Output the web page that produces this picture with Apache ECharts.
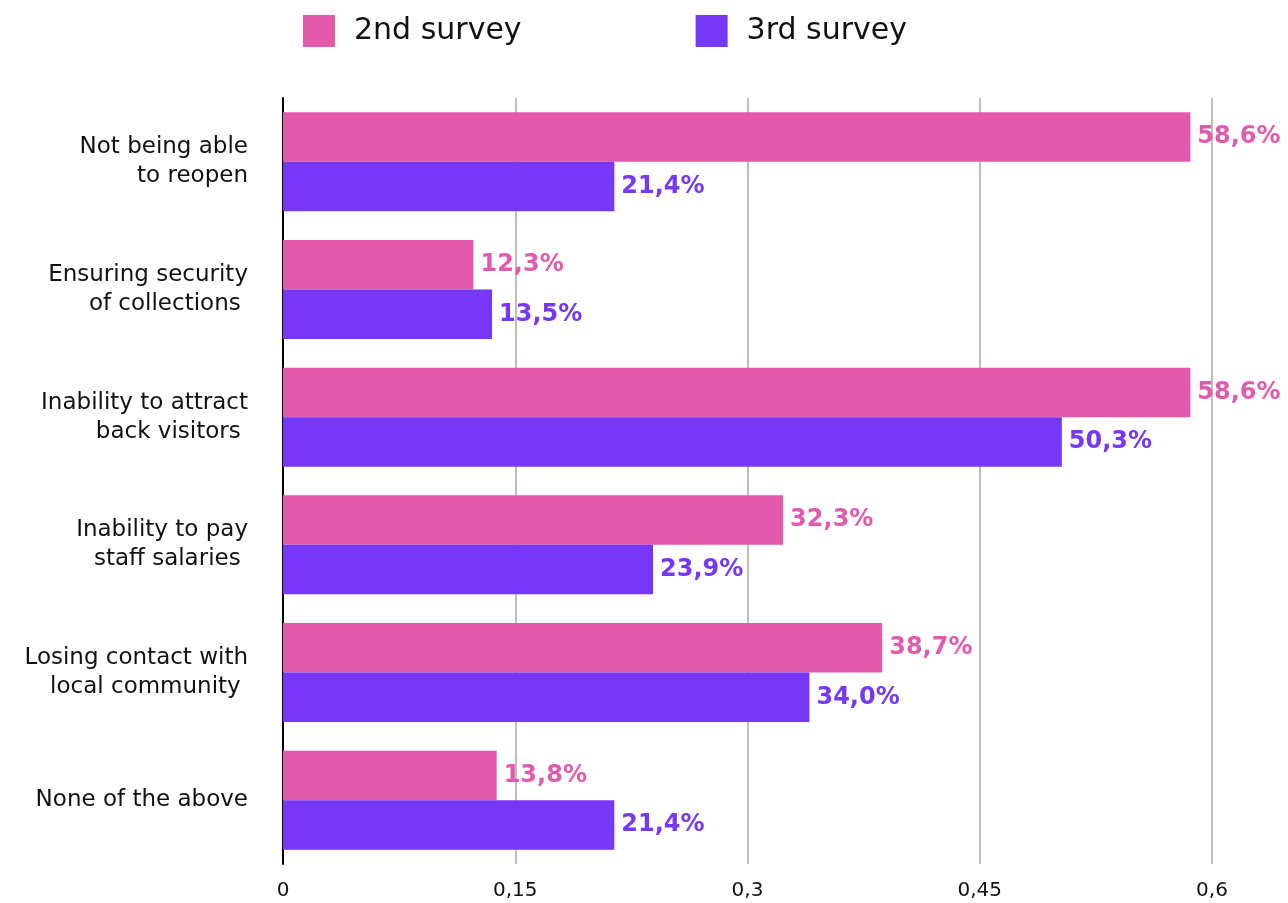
<!DOCTYPE html>
<html>
<head>
<meta charset="utf-8">
<script src="https://cdn.jsdelivr.net/npm/echarts@6/dist/echarts.min.js"></script>
<style>
  html, body { margin: 0; padding: 0; background: #fff; }
  #chart { width: 1288px; height: 903px; }
</style>
</head>
<body>
<div id="chart"></div>
<script>
  // categories top to bottom
  const categories = [
    'Not being able\nto reopen',
    'Ensuring security\nof collections ',
    'Inability to attract\nback visitors ',
    'Inability to pay\nstaff salaries ',
    'Losing contact with\nlocal community ',
    'None of the above'
  ]
  const survey2 = [0.586, 0.123, 0.586, 0.323, 0.387, 0.138]
  const survey3 = [0.214, 0.135, 0.503, 0.239, 0.340, 0.214]
  const xTicks = [0, 0.15, 0.3, 0.45, 0.6]

  const pink = '#e35aad'
  const purple = '#7638f6'
  const font = '"DejaVu Sans", sans-serif'

  const pct = p => (p.value * 100).toFixed(1).replace('.', ',') + '%'

  const chart = echarts.init(document.getElementById('chart'))
  chart.setOption({
    animation: false,
    textStyle: { fontFamily: font },
    legend: {
      top: 15,
      left: 303,
      padding: 0,
      itemWidth: 32,
      itemHeight: 32,
      itemGap: 174,
      icon: 'rect',
      textStyle: { fontSize: 30, color: '#111', fontFamily: font, padding: [0, 0, 0, 14] },
      data: ['2nd survey', '3rd survey']
    },
    grid: { left: 283, right: 76, top: 98, bottom: 39, containLabel: false },
    xAxis: {
      type: 'value',
      min: 0,
      max: 0.6,
      interval: 0.15,
      axisLine: { show: false },
      axisTick: { show: false },
      splitLine: { show: true, lineStyle: { color: '#bdbdbd', width: 2 } },
      axisLabel: {
        fontSize: 20,
        color: '#111',
        margin: 17,
        formatter: v => xTicks.includes(+v.toFixed(2)) ? String(+v.toFixed(2)).replace('.', ',') : ''
      }
    },
    yAxis: {
      type: 'category',
      inverse: true,
      data: categories,
      axisLine: { show: true, lineStyle: { color: '#000', width: 2 } },
      axisTick: { show: false },
      axisLabel: {
        fontSize: 23,
        color: '#111',
        margin: 35,
        lineHeight: 29,
        align: 'right'
      }
    },
    series: [
      {
        name: '2nd survey',
        type: 'bar',
        data: survey2,
        barGap: '0%',
        barCategoryGap: '22.4%',
        itemStyle: { color: pink },
        label: {
          show: true,
          position: 'right',
          distance: 7,
          formatter: pct,
          color: pink,
          fontSize: 24,
          fontWeight: 'bold'
        }
      },
      {
        name: '3rd survey',
        type: 'bar',
        data: survey3,
        barGap: '0%',
        barCategoryGap: '22.4%',
        itemStyle: { color: purple },
        label: {
          show: true,
          position: 'right',
          distance: 7,
          formatter: pct,
          color: purple,
          fontSize: 24,
          fontWeight: 'bold'
        }
      }
    ]
  })
</script>
</body>
</html>
